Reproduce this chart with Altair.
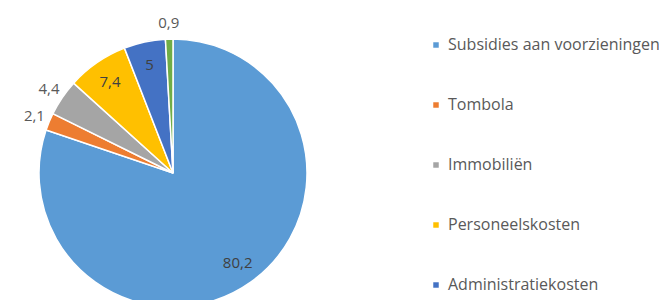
import altair as alt
import pandas as pd

categories = ["Subsidies aan voorzieningen", "Tombola", "Immobiliën",
              "Personeelskosten", "Administratiekosten", "Overige"]
values = [80.2, 2.1, 4.4, 7.4, 5.0, 0.9]
colors = ["#5B9BD5", "#ED7D31", "#A5A5A5", "#FFC000", "#4472C4", "#70AD47"]
legend_shown = categories[:5]

df = pd.DataFrame({"categorie": categories, "waarde": values,
                   "volgorde": list(range(len(categories)))})

cx, cy = 165, 165

base = alt.Chart(df).encode(
    theta=alt.Theta("waarde:Q", stack=True),
    order=alt.Order("volgorde:Q"),
    x=alt.value(cx),
    y=alt.value(cy),
)

arcs = base.mark_arc(radius=134, stroke="white", strokeWidth=1.5).encode(
    color=alt.Color(
        "categorie:N",
        scale=alt.Scale(domain=categories, range=colors),
        sort=categories,
        legend=alt.Legend(
            orient="none", legendX=420, legendY=29, title=None,
            values=legend_shown,
            symbolType="square", symbolSize=30, symbolStrokeWidth=0,
            labelFont="Open Sans", labelFontSize=16, labelColor="#595959",
            labelLimit=400, rowPadding=44, padding=0, labelOffset=4,
        ),
    )
)

lab = base.transform_calculate(
    label="replace('' + datum.waarde, '.', ',')"
)

inner = lab.mark_text(
    radius=111, font="Open Sans", fontSize=15, color="#404040"
).encode(text=alt.condition("datum.waarde >= 5", "label:N", alt.value("")))

outer = lab.mark_text(
    radius=150, font="Open Sans", fontSize=15, color="#595959"
).encode(text=alt.condition("datum.waarde < 5", "label:N", alt.value("")))

chart = alt.layer(arcs, inner, outer).properties(
    width=651, height=292, autosize=alt.AutoSizeParams(type="none"),
    padding=0,
).configure_view(stroke=None)

chart.save("out.html", embed_options={"renderer": "svg", "actions": False})
